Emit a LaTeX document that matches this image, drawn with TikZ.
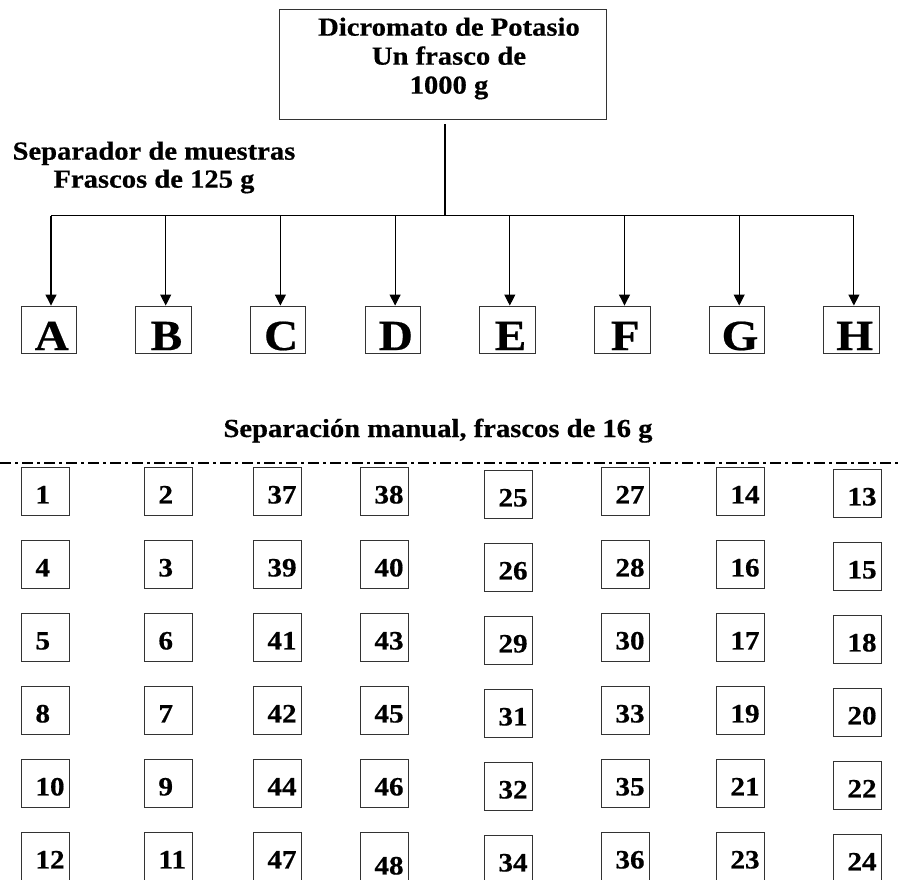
\documentclass[tikz,border=0pt]{standalone}
\usepackage{fontspec}
\setmainfont{Liberation Serif}[FakeStretch=1.1, FakeBold=0.5]
\usetikzlibrary{arrows.meta,calc}

\tikzset{
  boxline/.style={draw=black!80, line width=0.9pt},
  srcbox/.style={boxline, inner sep=0pt, minimum width=327pt, minimum height=110pt},
  caption/.style={font=\bfseries\fontsize{26}{29}\selectfont, align=center, inner sep=0pt},
  letterbox/.style={boxline, inner sep=0pt, text height=44pt, text depth=3pt,
    font=\bfseries\fontsize{43}{43}\selectfont},
  numbox/.style={boxline, inner sep=0pt, anchor=north west, text height=36pt, text depth=12pt,
    font=\bfseries\fontsize{26.5}{26.5}\selectfont},
  num48/.style={text height=42pt, text depth=6pt},
  feed/.style={line width=1.1pt, -{Triangle[width=11pt,length=11pt]}},
  bus/.style={line width=1.5pt},
  trunkline/.style={line width=2pt},
  cutline/.style={line width=2pt, dash pattern=on 11pt off 4pt on 3pt off 4pt}
}

\begin{document}
\begin{tikzpicture}[x=1pt,y=-1pt]
  \useasboundingbox (0,0) rectangle (902,879);

  % source bottle
  \node[srcbox] (src) at (442.5,64) {};
  \node[caption, anchor=north] (srctext) at (449,17.4)
    {Dicromato de Potasio\\Un frasco de\\1000 g};

  % splitter caption
  \node[caption, anchor=north, font=\bfseries\fontsize{26}{28}\selectfont] (splitter) at (154,141.4)
    {Separador de muestras\\Frascos de 125 g};

  % trunk and distribution bus
  \coordinate (trunk) at ($(src.south)+(2.5,5)$);
  \foreach \L [count=\i from 0] in {A,B,C,D,E,F,G,H} {
    \pgfmathsetmacro\bx{21+114.7*\i}
    \node[letterbox] (\L) at (\bx+27.75,329.5) {\makebox[55.5pt]{\hspace{6pt}\L}};
    \coordinate (bus\L) at (\bx+30,215.5);
  }
  \draw[trunkline] (trunk) -- (trunk |- busA);
  \draw[bus] (busA) -- (busH);
  \foreach \L in {A,B,C,D,E,F,G,H}
    \draw[feed] (bus\L) -- (bus\L |- \L.north);

  % manual split caption and cut line
  \node[caption, anchor=base] (manual) at (438,437) {Separación manual, frascos de 16 g};
  \coordinate (cutL) at (0,463);
  \coordinate (cutR) at (902,463);
  \draw[cutline] (cutL) -- (cutR);

  % 16 g bottles
  \foreach \row [count=\r from 0] in {
      {1,2,37,38,25,27,14,13},
      {4,3,39,40,26,28,16,15},
      {5,6,41,43,29,30,17,18},
      {8,7,42,45,31,33,19,20},
      {10,9,44,46,32,35,21,22},
      {12,11,47,48,34,36,23,24}} {
    \foreach \v [count=\c from 0] in \row {
      \pgfmathsetmacro\cx{{21,144,253,360,484,601,716,833}[\c]}
      \pgfmathsetmacro\dy{{0,0,0,0,3,0,0,2}[\c]}
      \node[numbox, num\v/.try] (n\v) at (\cx,467+73*\r+\dy)
        {\makebox[47.5pt][l]{\hspace{14pt}\v}};
    }
  }
\end{tikzpicture}
\end{document}
